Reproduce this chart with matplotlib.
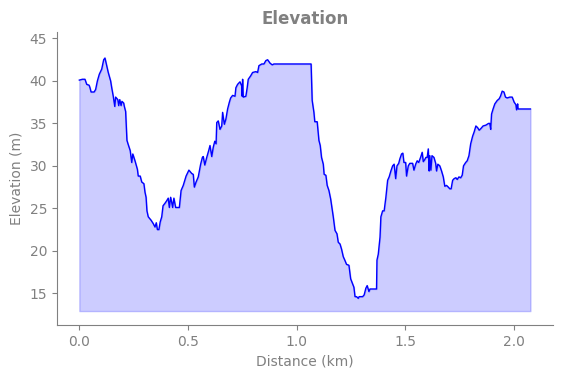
import matplotlib
matplotlib.use("Agg")
import matplotlib.pyplot as plt

distance_km = [
    0.000, 0.014, 0.026, 0.034, 0.045, 0.049, 0.054, 0.068, 0.075, 0.083,
    0.092, 0.103, 0.112, 0.118, 0.126, 0.133, 0.144, 0.149, 0.156, 0.163,
    0.167, 0.177, 0.181, 0.186, 0.192, 0.196, 0.204, 0.207, 0.213, 0.219,
    0.225, 0.234, 0.241, 0.246, 0.256, 0.267, 0.271, 0.280, 0.287, 0.297,
    0.302, 0.307, 0.311, 0.317, 0.330, 0.340, 0.348, 0.354, 0.359, 0.366,
    0.372, 0.379, 0.385, 0.394, 0.402, 0.409, 0.414, 0.420, 0.425, 0.429,
    0.435, 0.443, 0.460, 0.468, 0.478, 0.491, 0.504, 0.517, 0.524, 0.529,
    0.537, 0.547, 0.558, 0.566, 0.570, 0.577, 0.586, 0.595, 0.601, 0.609,
    0.616, 0.623, 0.629, 0.632, 0.639, 0.647, 0.655, 0.659, 0.667, 0.674,
    0.682, 0.690, 0.696, 0.705, 0.716, 0.720, 0.728, 0.739, 0.747, 0.749,
    0.751, 0.754, 0.766, 0.772, 0.777, 0.788, 0.797, 0.812, 0.820, 0.826,
    0.839, 0.849, 0.858, 0.866, 0.877, 0.887, 0.895, 1.066, 1.071, 1.079,
    1.083, 1.094, 1.102, 1.108, 1.114, 1.122, 1.126, 1.134, 1.140, 1.148,
    1.156, 1.168, 1.176, 1.185, 1.191, 1.199, 1.206, 1.214, 1.221, 1.229,
    1.240, 1.248, 1.257, 1.263, 1.268, 1.275, 1.283, 1.287, 1.295, 1.303,
    1.310, 1.318, 1.324, 1.332, 1.337, 1.367, 1.369, 1.375, 1.383, 1.387,
    1.395, 1.402, 1.410, 1.418, 1.425, 1.433, 1.441, 1.448, 1.455, 1.461,
    1.469, 1.474, 1.482, 1.488, 1.493, 1.501, 1.505, 1.513, 1.520, 1.533,
    1.539, 1.547, 1.554, 1.561, 1.571, 1.577, 1.582, 1.588, 1.594, 1.600,
    1.605, 1.609, 1.612, 1.617, 1.622, 1.631, 1.639, 1.643, 1.649, 1.658,
    1.666, 1.674, 1.681, 1.689, 1.697, 1.704, 1.710, 1.717, 1.724, 1.732,
    1.738, 1.746, 1.754, 1.761, 1.767, 1.777, 1.784, 1.792, 1.800, 1.809,
    1.816, 1.824, 1.832, 1.839, 1.847, 1.857, 1.870, 1.882, 1.888, 1.892,
    1.896, 1.903, 1.911, 1.922, 1.931, 1.937, 1.945, 1.953, 1.960, 1.968,
    1.980, 1.991, 2.000, 2.008, 2.011, 2.016, 2.018, 2.075,
]

elevation_m = [
    40.1, 40.2, 40.2, 39.6, 39.5, 39.2, 38.7, 38.7, 39.0, 40.0,
    40.8, 41.4, 42.5, 42.7, 41.8, 41.0, 40.0, 39.2, 38.2, 37.0,
    38.1, 37.8, 37.1, 37.8, 37.1, 37.6, 37.4, 37.0, 36.4, 33.0,
    32.5, 31.8, 30.4, 31.4, 30.6, 29.6, 28.8, 28.8, 28.1, 27.9,
    26.9, 26.3, 24.7, 24.0, 23.6, 23.2, 22.8, 23.3, 22.5, 22.5,
    23.4, 24.0, 25.3, 25.6, 25.9, 26.2, 25.1, 26.3, 25.7, 25.1,
    26.2, 25.1, 25.1, 27.1, 27.7, 28.8, 29.5, 29.1, 29.0, 27.5,
    28.1, 28.7, 30.2, 31.0, 31.1, 30.1, 31.0, 31.8, 32.4, 31.1,
    32.2, 32.9, 32.6, 35.1, 35.3, 34.3, 34.7, 36.3, 34.9, 35.5,
    36.7, 37.5, 38.0, 38.3, 38.2, 39.2, 39.6, 39.9, 39.4, 38.2,
    40.2, 38.1, 38.2, 39.2, 40.2, 40.6, 41.0, 41.1, 41.0, 41.8,
    42.0, 42.0, 42.4, 42.5, 42.1, 41.9, 42.0, 42.0, 37.7, 36.3,
    35.2, 35.2, 33.0, 32.4, 31.0, 30.2, 29.0, 28.9, 27.7, 27.1,
    26.1, 24.0, 22.4, 22.0, 21.0, 20.8, 20.2, 19.3, 18.9, 18.4,
    18.3, 16.7, 16.1, 15.7, 14.6, 14.6, 14.4, 14.6, 14.6, 14.6,
    14.8, 15.6, 15.9, 15.2, 15.5, 15.5, 18.9, 19.6, 21.6, 24.0,
    24.7, 24.7, 26.3, 28.3, 28.7, 29.4, 30.0, 30.2, 28.5, 30.0,
    30.3, 30.8, 31.4, 31.5, 30.4, 30.4, 28.8, 30.0, 30.3, 30.3,
    29.5, 30.2, 30.6, 30.4, 31.1, 31.6, 30.5, 30.7, 31.0, 31.0,
    32.0, 29.4, 31.2, 29.5, 31.2, 31.0, 30.3, 29.4, 30.2, 30.0,
    29.4, 28.7, 27.6, 27.7, 27.5, 27.3, 27.3, 28.3, 28.5, 28.6,
    28.4, 28.7, 28.6, 28.9, 30.0, 30.4, 30.6, 31.2, 32.6, 33.5,
    34.0, 34.7, 34.5, 34.2, 34.4, 34.7, 34.8, 35.0, 35.0, 34.3,
    36.1, 36.7, 37.3, 37.7, 37.9, 38.2, 38.8, 38.7, 38.1, 38.0,
    38.1, 38.1, 37.5, 37.2, 36.6, 37.3, 36.7, 36.7,
]


def plot_elevation(dist, elev):
    fig, ax = plt.subplots(figsize=(5.62, 3.78), dpi=100)
    fig.subplots_adjust(left=0.101, right=0.984, top=0.915, bottom=0.140)

    base = min(elev) - 1.5
    ax.fill_between(dist, elev, base, color='blue', alpha=0.2)
    ax.plot(dist, elev, color='blue', linewidth=1.0)

    ax.set_ylim(11.25, 45.75)
    ax.set_yticks([15, 20, 25, 30, 35, 40, 45])
    ax.set_xticks([0.0, 0.5, 1.0, 1.5, 2.0])

    ax.set_title('Elevation', color='gray', fontsize=12, fontweight='bold')
    ax.set_xlabel('Distance (km)', color='gray')
    ax.set_ylabel('Elevation (m)', color='gray')
    ax.tick_params(colors='gray')
    for side in ['top', 'right']:
        ax.spines[side].set_visible(False)
    for side in ['left', 'bottom']:
        ax.spines[side].set_color('gray')

    fig.savefig('out.png', dpi=100)


if __name__ == "__main__":
    plot_elevation(distance_km, elevation_m)
